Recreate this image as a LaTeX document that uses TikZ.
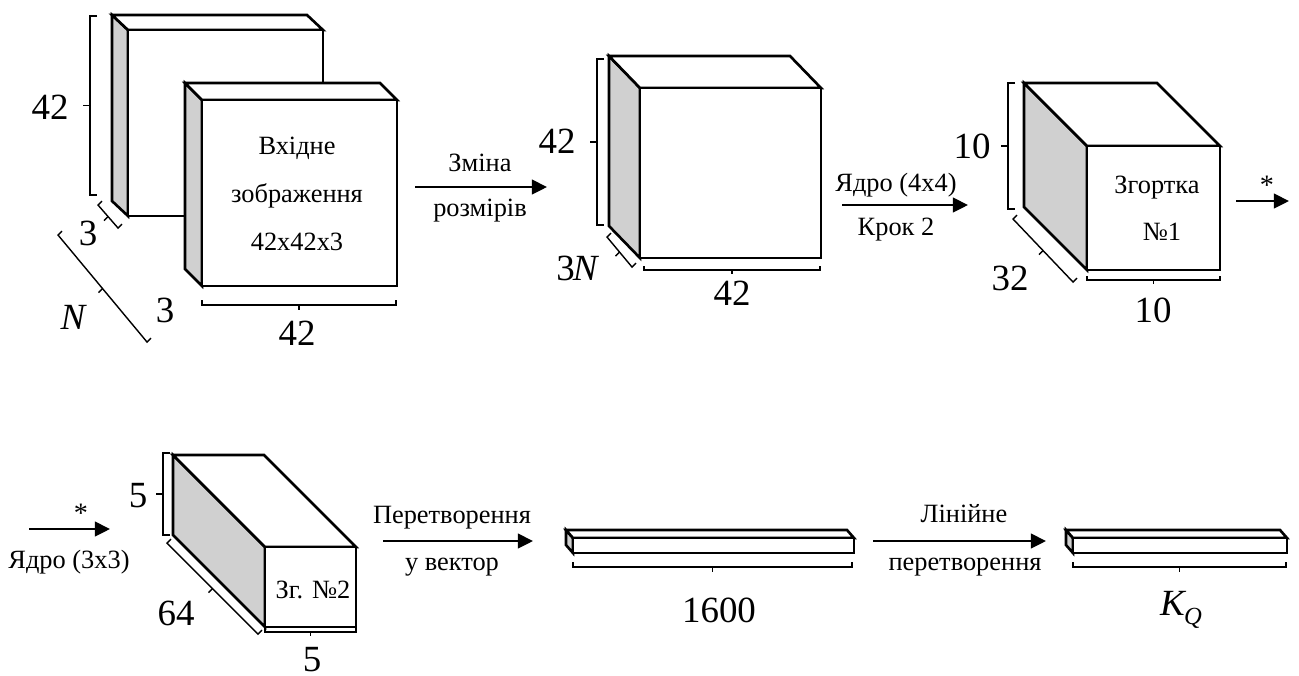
\documentclass[tikz,border=0pt]{standalone}
\usepackage{fontspec}
\setmainfont{Liberation Serif}
\usetikzlibrary{arrows.meta,calc}
\definecolor{sidegray}{RGB}{208,208,208}
\tikzset{
  edge/.style={line width=0.75pt, line join=miter},
  brk/.style={line width=0.4pt},
  flow/.style={line width=0.45pt, -{Triangle[length=4.3pt,width=4.2pt]}},
  big/.style={font=\fontsize{10.5}{12}\selectfont, inner sep=0pt},
  small/.style={font=\fontsize{7.5}{13.6}\selectfont, inner sep=0pt, align=center},
  star/.style={font=\fontsize{8}{9}\selectfont, inner sep=0pt},
}
% #1 name, #2 x, #3 y (front top-left), #4 w, #5 h, #6 dx, #7 dy
\newcommand{\cuboid}[7]{%
  \filldraw[edge, fill=sidegray] (#2-#6,#3-#7) -- (#2,#3) -- (#2,#3+#5) -- (#2-#6,#3+#5-#7) -- cycle;
  \filldraw[edge, fill=white] (#2-#6,#3-#7) -- (#2+#4-#6,#3-#7) -- (#2+#4,#3) -- (#2,#3) -- cycle;
  \filldraw[edge, fill=white] (#2,#3) rectangle (#2+#4,#3+#5);
  \coordinate (#1) at (#2+#4/2,#3+#5/2);
}
% bracket from (#1,#2) to (#3,#4), serif vector (#5,#6), tick opposite
\newcommand{\dimbr}[6]{%
  \draw[brk] (#1+#5,#2+#6) -- (#1,#2) -- (#3,#4) -- (#3+#5,#4+#6);
  \draw[brk] ($(#1,#2)!0.5!(#3,#4)$) -- ++(-#5,-#6);
}
\begin{document}
\begin{tikzpicture}[x=0.01cm,y=-0.01cm]
\useasboundingbox (0,0) rectangle (1299,675);

% ---- input images
\cuboid{img1}{128}{30}{195}{186}{16}{15}
\cuboid{img2}{202}{100}{195}{186}{17}{17}
\node[small] (t2) at (297,194) {Вхідне\\зображення\\42x42x3};
\dimbr{90}{16}{90}{195}{7}{0}
\node[big] (l42a) at (50,107) {42};
\dimbr{98}{205}{118}{228}{4}{-4}
\node[big] (l3a) at (88,233) {3};
\dimbr{58}{235}{147}{342}{4}{-4}
\node[big] (lN) at (73,317) {\itshape N};
\node[big] (l3b) at (165,310) {3};
\dimbr{202}{305}{396}{305}{0}{-5}
\node[big] (l42b) at (297,333) {42};

% arrow 1
\coordinate (a1s) at (415,187);
\coordinate (a1e) at (547,187);
\draw[flow] (a1s) -- (a1e);
\node[small, anchor=base] (a1u) at (480,171.5) {Зміна};
\node[small, anchor=base] (a1d) at (480,216.5) {розмірів};

% ---- resized
\cuboid{res}{640}{88}{181}{170}{31}{32}
\dimbr{597}{59}{597}{225}{7}{0}
\node[big] (l42c) at (557,141) {42};
\dimbr{607}{237}{632}{267}{4}{-4}
\node[big] (l3N) at (577,268) {3\kern-0.05em\itshape N};
\dimbr{644}{270}{820}{270}{0}{-4}
\node[big] (l42d) at (732,293) {42};

% arrow 2
\coordinate (a2s) at (842,205);
\coordinate (a2e) at (968,205);
\draw[flow] (a2s) -- (a2e);
\node[small, anchor=base] (a2u) at (896,191.5) {Ядро (4x4)};
\node[small, anchor=base] (a2d) at (896,235) {Крок 2};

% ---- conv 1
\cuboid{cv1}{1087}{146}{133}{124}{63}{63}
\node[small, anchor=base] (c1a) at (1157,193.3) {Згортка};
\node[small, anchor=base] (c1b) at (1162,240) {№1};
\dimbr{1008}{83}{1008}{209}{7}{0}
\node[big] (l10a) at (972,146) {10};
\dimbr{1013}{219}{1073}{282}{4}{-4}
\node[big] (l32) at (1010,278) {32};
\dimbr{1087}{280}{1220}{280}{0}{-4}
\node[big] (l10b) at (1153,310) {10};

% arrow 3
\coordinate (a3s) at (1236,201);
\coordinate (a3e) at (1289,201);
\draw[flow] (a3s) -- (a3e);
\node[star] (a3u) at (1267,185) {*};

% ---- bottom row
\coordinate (a4s) at (29,529);
\coordinate (a4e) at (110,529);
\draw[flow] (a4s) -- (a4e);
\node[star] (a4u) at (81,513) {*};
\node[small, anchor=base] (a4d) at (69,568.3) {Ядро (3x3)};

\cuboid{cv2}{265}{547}{91}{80}{92}{92}
\node[small, anchor=base] (c2) at (313,598.3) {Зг. №2};
\dimbr{163}{453}{163}{535}{7}{0}
\node[big] (l5a) at (138,496) {5};
\dimbr{167}{543}{258}{634}{4}{-4}
\node[big] (l64) at (176,613) {64};
\dimbr{265}{632}{356}{632}{0}{-4}
\node[big] (l5b) at (312,660) {5};

% arrow 5
\coordinate (a5s) at (383,541);
\coordinate (a5e) at (533,541);
\draw[flow] (a5s) -- (a5e);
\node[small, anchor=base] (a5u) at (452,523.3) {Перетворення};
\node[small, anchor=base] (a5d) at (452,570) {у вектор};

\cuboid{vec1}{573}{538}{281}{15}{7}{8}
\dimbr{573}{567}{852}{567}{0}{-5}
\node[big] (l1600) at (719,610) {1600};

% arrow 6
\coordinate (a6s) at (873,541);
\coordinate (a6e) at (1046,541);
\draw[flow] (a6s) -- (a6e);
\node[small, anchor=base] (a6u) at (964,522.3) {Лінійне};
\node[small, anchor=base] (a6d) at (965,570) {перетворення};

\cuboid{vec2}{1073}{538}{214}{15}{7}{8}
\dimbr{1073}{567}{1286}{567}{0}{-5}
\node[big] (lKQ) at (1181,610) {\itshape K\kern-0.02em\raisebox{-0.25em}{\fontsize{7}{8}\selectfont\itshape Q}};
\end{tikzpicture}
\end{document}
